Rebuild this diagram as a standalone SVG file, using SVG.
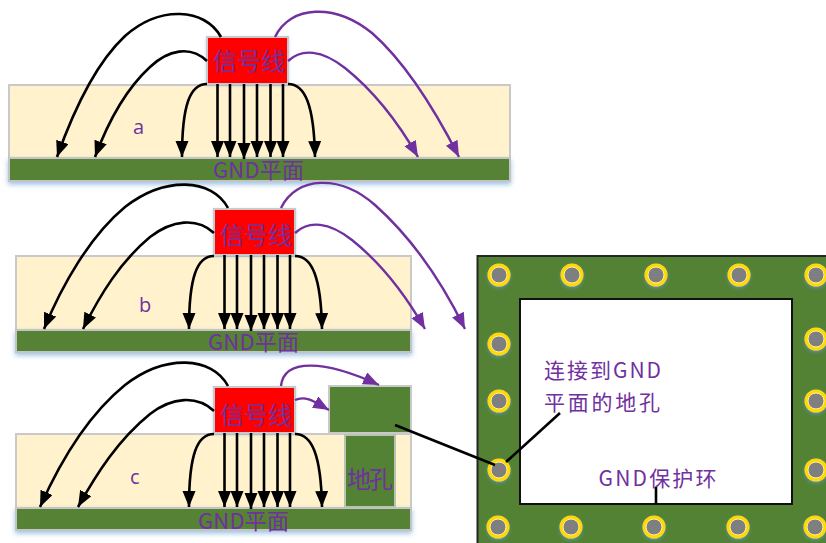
<svg xmlns="http://www.w3.org/2000/svg" width="826" height="543" viewBox="0 0 826 543">
<style>
.cream{fill:#fff2cc;stroke:#c9c9c9;stroke-width:2}
.gnd{fill:#548235;stroke:#c4c4c4;stroke-width:2;filter:url(#sh)}
.red{fill:#ff0000;stroke:#c9c9c9;stroke-width:2;filter:url(#sh2)}
.k{fill:none;stroke:#000;stroke-width:2.600;marker-end:url(#ak)}
.p{fill:none;stroke:#7030a0;stroke-width:2.400;marker-end:url(#ap)}
.l{fill:none;stroke:#000;stroke-width:2.600}
text{fill:#7030a0;font-family:"Noto Sans CJK SC","Noto Sans",sans-serif}
.t{font-size:24px}
.g{font-size:22px}
.s{font-size:20px;font-family:"Open Sans","Noto Sans",sans-serif}
.n{font-size:21px}
.vo{fill:#ffd900;filter:url(#sh3)}
.vi{fill:#7f7f7f;stroke:#fff2a0;stroke-width:1}
</style>
<defs>
<filter id="sh" x="-5%" y="-30%" width="110%" height="170%"><feDropShadow dx="0" dy="2.500" stdDeviation="2.500" flood-color="#5b9bd5" flood-opacity=".6"/></filter>
<filter id="sh2" x="-10%" y="-10%" width="120%" height="120%"><feDropShadow dx="0" dy="1" stdDeviation="1.500" flood-color="#5b9bd5" flood-opacity=".4"/></filter>
<filter id="sh3" x="-30%" y="-30%" width="160%" height="160%"><feDropShadow dx="0" dy="1.500" stdDeviation="1.500" flood-color="#5b9bd5" flood-opacity=".7"/></filter>
<marker id="ak" markerUnits="userSpaceOnUse" markerWidth="18" markerHeight="14" refX="16" refY="6.500" orient="auto"><path d="M0,0L16,6.500L0,13Z" fill="#000"/></marker>
<marker id="ap" markerUnits="userSpaceOnUse" markerWidth="18" markerHeight="14" refX="16" refY="6.500" orient="auto"><path d="M0,0L16,6.500L0,13Z" fill="#7030a0"/></marker>
</defs>

<g id="panel-a">
<rect class="cream" x="9" y="85" width="501" height="74"/>
<rect class="gnd" x="9" y="158" width="501" height="23"/>
<rect class="red" x="207" y="37" width="81" height="47"/>
<text class="t" x="213" y="70" textLength="72">信号线</text>
<text class="g" x="213" y="178" textLength="91">GND平面</text>
<text class="s" x="133" y="134">a</text>
</g>
<g id="panel-b">
<rect class="cream" x="16" y="256" width="395" height="74"/>
<rect class="gnd" x="16" y="330" width="395" height="22"/>
<rect class="red" x="214" y="209" width="81" height="46"/>
<text class="t" x="220" y="244" textLength="72">信号线</text>
<text class="g" x="208" y="350" textLength="91">GND平面</text>
<text class="s" x="139" y="312">b</text>
</g>
<g id="panel-c">
<rect class="cream" x="16" y="434" width="395" height="74"/>
<rect class="gnd" x="16" y="508" width="395" height="22"/>
<rect class="red" x="214" y="387" width="81" height="46"/>
<text class="t" x="220" y="424" textLength="72">信号线</text>
<text class="g" x="198" y="529" textLength="91">GND平面</text>
<text class="s" x="130" y="484">c</text>
</g>
<g id="via-top"><rect x="329" y="386" width="82" height="47" fill="#548235" stroke="#c9c9c9" stroke-width="2"/></g>
<g id="via-hole">
<rect x="345" y="435" width="50" height="72" fill="#548235" stroke="#b9c4b0" stroke-width="2"/>
<text x="347" y="488" font-size="24" textLength="46">地孔</text>
</g>

<g id="guard-board">
<rect x="477.500" y="256" width="352" height="290" fill="#548235" stroke="#262626" stroke-width="2"/>
<rect x="520" y="299" width="272" height="205" fill="#fff" stroke="#111" stroke-width="2"/>
<text class="n" x="544" y="378" textLength="117">连接到GND</text>
<text class="n" x="544" y="410" textLength="116">平面的地孔</text>
<text class="n" x="598.500" y="486" textLength="118">GND保护环</text>
</g>
<g id="vias">
<circle class="vo" cx="499" cy="275" r="11.500"/><circle class="vi" cx="499" cy="275" r="8"/>
<circle class="vo" cx="572" cy="275" r="11.500"/><circle class="vi" cx="572" cy="275" r="8"/>
<circle class="vo" cx="656" cy="275" r="11.500"/><circle class="vi" cx="656" cy="275" r="8"/>
<circle class="vo" cx="739" cy="275" r="11.500"/><circle class="vi" cx="739" cy="275" r="8"/>
<circle class="vo" cx="816" cy="275" r="11.500"/><circle class="vi" cx="816" cy="275" r="8"/>
<circle class="vo" cx="499" cy="344" r="11.500"/><circle class="vi" cx="499" cy="344" r="8"/>
<circle class="vo" cx="499" cy="401" r="11.500"/><circle class="vi" cx="499" cy="401" r="8"/>
<circle class="vo" cx="499" cy="470" r="11.500"/><circle class="vi" cx="499" cy="470" r="8"/>
<circle class="vo" cx="816" cy="339" r="11.500"/><circle class="vi" cx="816" cy="339" r="8"/>
<circle class="vo" cx="816" cy="401" r="11.500"/><circle class="vi" cx="816" cy="401" r="8"/>
<circle class="vo" cx="816" cy="470" r="11.500"/><circle class="vi" cx="816" cy="470" r="8"/>
<circle class="vo" cx="498" cy="527" r="11.500"/><circle class="vi" cx="498" cy="527" r="8"/>
<circle class="vo" cx="571" cy="527" r="11.500"/><circle class="vi" cx="571" cy="527" r="8"/>
<circle class="vo" cx="654" cy="527" r="11.500"/><circle class="vi" cx="654" cy="527" r="8"/>
<circle class="vo" cx="738" cy="527" r="11.500"/><circle class="vi" cx="738" cy="527" r="8"/>
<circle class="vo" cx="815" cy="527" r="11.500"/><circle class="vi" cx="815" cy="527" r="8"/>
</g>

<g id="connectors">
<!-- a -->
<path class="k" d="M221,37C205,8 160,5 125,36C95,64 73,112 57,157"/>
<path class="k" d="M207,61C190,45 168,50 150,67C125,90 108,122 95,157"/>
<path class="k" d="M207,84C190,84 182,105 182,157"/>
<path class="k" d="M217.500,84V157"/><path class="k" d="M230,84V157"/><path class="k" d="M244,84V159"/><path class="k" d="M257,84V157"/><path class="k" d="M270.500,84V157"/><path class="k" d="M283,84V157"/>
<path class="k" d="M288,84C305,84 314,105 315,157"/>
<path class="p" d="M275,37C290,5 335,3 372,33C405,62 435,110 459,157"/>
<path class="p" d="M288,61C302,48 322,50 345,68C375,92 398,122 418,157"/>
<!-- b -->
<path class="k" d="M228,208C212,178 165,176 125,207C90,236 62,285 44,329"/>
<path class="k" d="M214,233C197,217 172,220 150,237C120,262 100,295 83,329"/>
<path class="k" d="M214,256C197,256 189,277 189,329"/>
<path class="k" d="M224.500,255V329"/><path class="k" d="M237,255V329"/><path class="k" d="M251,255V331"/><path class="k" d="M264,255V329"/><path class="k" d="M277.500,255V329"/><path class="k" d="M290,255V329"/>
<path class="k" d="M295,256C312,256 321,277 322,329"/>
<path class="p" d="M281,208C296,176 340,174 375,205C412,238 442,282 465,329"/>
<path class="p" d="M295,233C309,220 329,222 352,240C382,264 405,294 425,329"/>
<!-- c -->
<path class="k" d="M228,386C212,356 165,354 125,385C88,415 60,462 40,507"/>
<path class="k" d="M214,411C197,395 172,397 150,414C118,440 97,473 78,507"/>
<path class="k" d="M214,434C197,434 189,455 189,507"/>
<path class="k" d="M224.500,433V507"/><path class="k" d="M237,433V507"/><path class="k" d="M251,433V509"/><path class="k" d="M264,433V507"/><path class="k" d="M277.500,433V507"/><path class="k" d="M290,433V507"/>
<path class="k" d="M295,434C312,434 321,455 322,507"/>
<path class="p" d="M281,386C284,358 325,360 379,385"/>
<path class="p" d="M295,400C306,395 315,402 329,410"/>
<path class="l" d="M395,425L495,465"/>
<path class="l" d="M506,462L560,413"/>
<path class="l" d="M656,487V504"/>
</g>
</svg>
